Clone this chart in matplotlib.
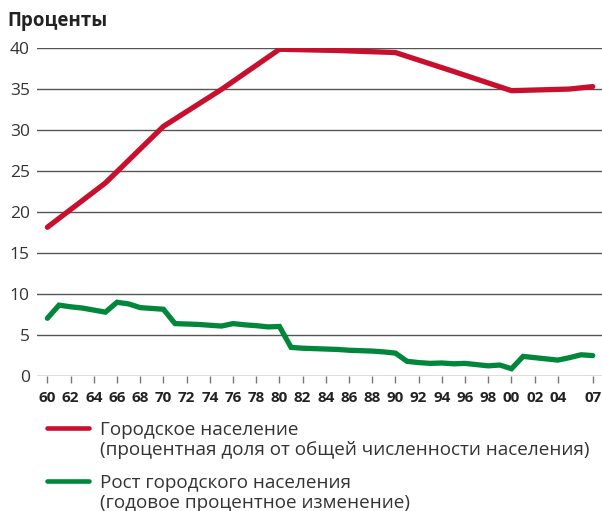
import matplotlib
matplotlib.use('Agg')
import matplotlib.pyplot as plt
from matplotlib.lines import Line2D

plt.rcParams['font.family'] = ['Open Sans', 'DejaVu Sans']

# Urban population share (% of total) - read at 5-year points
share_years = [1960, 1965, 1970, 1975, 1980, 1985, 1990, 1995, 2000, 2005, 2007]
share_vals = [18.1, 23.5, 30.4, 34.9, 39.8, 39.65, 39.4, 37.1, 34.75, 34.95, 35.25]

# Urban population growth (annual % change)
growth_years = list(range(1960, 2008))
growth_vals = [7.0, 8.6, 8.4, 8.25, 8.0, 7.75, 8.95, 8.75, 8.3, 8.2, 8.1,
               6.35, 6.3, 6.25, 6.15, 6.05, 6.35, 6.2, 6.1, 5.95, 6.0,
               3.45, 3.35, 3.3, 3.25, 3.2, 3.1, 3.05, 3.0, 2.9, 2.75,
               1.75, 1.6, 1.5, 1.55, 1.45, 1.5, 1.35, 1.2, 1.3, 0.85,
               2.35, 2.2, 2.05, 1.9, 2.2, 2.55, 2.45]

tick_years = list(range(1960, 2005, 2)) + [2007]
tick_labels = ['%02d' % (y % 100) for y in tick_years]
y_ticks = [0, 5, 10, 15, 20, 25, 30, 35, 40]

legend_labels = [('Городское население', '(процентная доля от общей численности населения)'),
                 ('Рост городского населения', '(годовое процентное изменение)')]

red = '#C8102E'
green = '#00873C'

W, H = 602, 511
fig = plt.figure(figsize=(W / 100, H / 100), dpi=100)
ax = fig.add_axes([0.061, 0.2648, 0.939, 0.642])

for yv in y_ticks:
    ax.axhline(yv, color='#555555', lw=1.0, zorder=1)

ax.plot(share_years, share_vals, color=red, lw=3.8, solid_capstyle='round',
        solid_joinstyle='miter', zorder=3)
ax.plot(growth_years, growth_vals, color=green, lw=3.8, solid_capstyle='round',
        solid_joinstyle='miter', zorder=3)

ax.set_xlim(1959.08, 2007.8)
ax.set_ylim(0, 40)
for s in ax.spines.values():
    s.set_visible(False)

ax.set_yticks(y_ticks)
ax.tick_params(axis='y', length=0, pad=5, labelsize=12.5, labelcolor='#333333')
ax.set_xticks(tick_years)
ax.set_xticklabels(tick_labels, fontweight='bold')
ax.tick_params(axis='x', length=5, width=1, color='#777777', pad=6,
               labelsize=11, labelcolor='#222222')

fig.text(0.013, 0.958, 'Проценты', fontsize=13.5, fontweight='bold',
         color='#222222', va='center', ha='left')

# legend, drawn by hand so the swatch sits on the first text line
for i, (col, (line1, line2)) in enumerate(zip([red, green], legend_labels)):
    top = 428 + i * 53
    fig.add_artist(Line2D([47 / W, 89 / W], [1 - top / H, 1 - top / H],
                          color=col, lw=3.3, solid_capstyle='round'))
    fig.text(100 / W, 1 - (top + 7) / H, line1, fontsize=13.6,
             color='#333333', va='baseline', ha='left')
    fig.text(100 / W, 1 - (top + 26.5) / H, line2, fontsize=13.6,
             color='#333333', va='baseline', ha='left')

fig.savefig('out.png', dpi=100)
